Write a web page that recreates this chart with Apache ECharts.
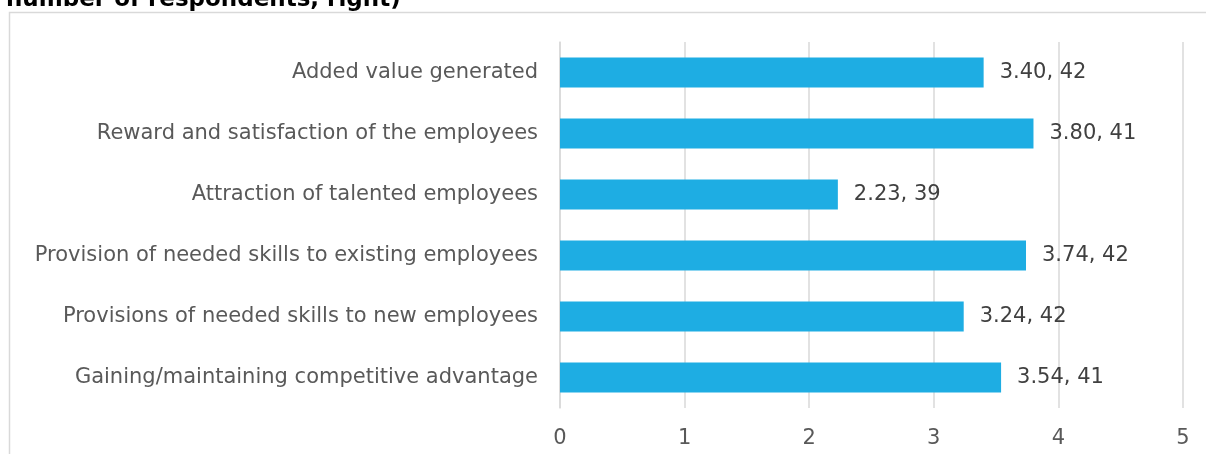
<!DOCTYPE html>
<html>
<head>
<meta charset="utf-8">
<script src="https://cdn.jsdelivr.net/npm/echarts@6/dist/echarts.min.js"></script>
<style>
  html, body { margin: 0; padding: 0; background: #fff; }
  #chart { width: 1206px; height: 454px; }
</style>
</head>
<body>
<div id="chart"></div>
<script>
// Motives for training, listed top to bottom
const categories = [
  'Added value generated',
  'Reward and satisfaction of the employees',
  'Attraction of talented employees',
  'Provision of needed skills to existing employees',
  'Provisions of needed skills to new employees',
  'Gaining/maintaining competitive advantage'
];
// Average score per motive
const meanScores = [3.40, 3.80, 2.23, 3.74, 3.24, 3.54];
// Number of respondents per motive
const respondents = [42, 41, 39, 42, 42, 41];
const xTicks = [0, 1, 2, 3, 4, 5];

const chart = echarts.init(document.getElementById('chart'), null, { renderer: 'canvas' });

// Category axis runs bottom-up in ECharts, so reverse for display order
const catRev = categories.slice().reverse();
const dataRev = meanScores.map((v, i) => ({ value: v, n: respondents[i] })).reverse();

const font = '"DejaVu Sans", sans-serif';

chart.setOption({
  animation: false,
  backgroundColor: '#ffffff',
  graphic: [
    {
      type: 'text',
      left: 6,
      top: -11,
      style: {
        text: 'number of respondents, right)',
        font: 'bold 23px "DejaVu Sans", sans-serif',
        fill: '#000000'
      }
    },
    {
      type: 'rect',
      shape: { x: 9.5, y: 12.5, width: 1220, height: 460 },
      style: { fill: 'none', stroke: '#d9d9d9', lineWidth: 1.5 },
      z: -1
    }
  ],
  grid: { left: 560, right: 23, top: 42, bottom: 46, containLabel: false },
  xAxis: {
    type: 'value',
    min: xTicks[0],
    max: xTicks[xTicks.length - 1],
    interval: 1,
    axisLine: { show: false },
    axisTick: { show: false },
    splitLine: { show: true, lineStyle: { color: '#d9d9d9', width: 1.5 } },
    axisLabel: { color: '#595959', fontSize: 21, fontFamily: font, margin: 20 }
  },
  yAxis: {
    type: 'category',
    data: catRev,
    axisLine: { show: true, lineStyle: { color: '#d9d9d9', width: 1.5 } },
    axisTick: { show: false },
    axisLabel: { color: '#595959', fontSize: 21, fontFamily: font, margin: 22 }
  },
  series: [{
    type: 'bar',
    data: dataRev,
    barWidth: '49%',
    itemStyle: { color: '#1eade3' },
    label: {
      show: true,
      position: 'right',
      distance: 16,
      color: '#404040',
      fontSize: 21,
      fontFamily: font,
      formatter: p => p.value.toFixed(2) + ', ' + p.data.n
    }
  }]
});
</script>
</body>
</html>
